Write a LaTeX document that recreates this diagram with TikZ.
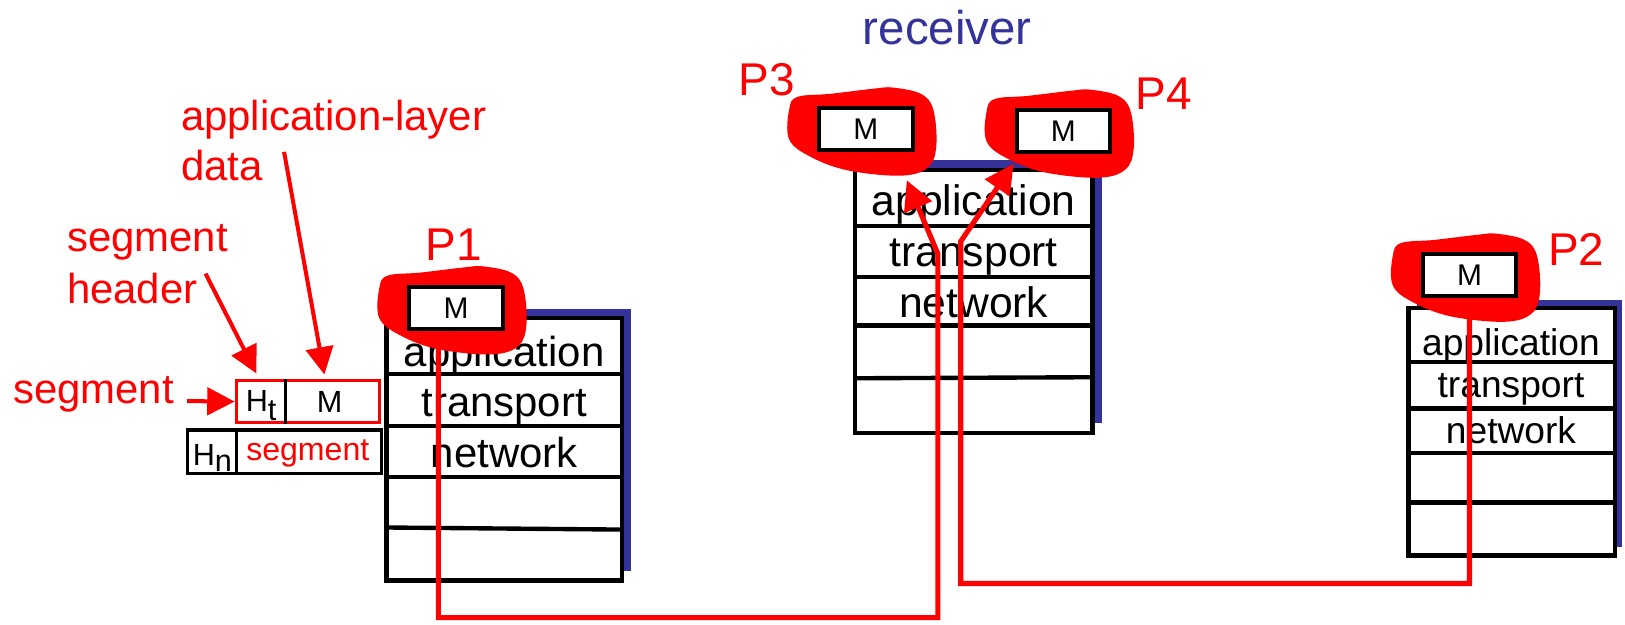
\documentclass[tikz,border=0pt]{standalone}
\usepackage{fontspec}
\setmainfont{Liberation Sans}
\usetikzlibrary{arrows.meta,calc}
\definecolor{shadowblue}{RGB}{51,51,153}
\definecolor{pred}{RGB}{255,0,0}
\newcommand\blobat[1]{\fill[pred,shift={#1}] plot[smooth cycle, tension=0.6] coordinates {(-62,-34) (-30,-37) (12,-42) (30,-43) (57,-37) (69,-22) (72,13) (64,34) (38,42) (-13,37) (-49,24) (-70,7) (-70,-22)};}
\begin{document}
\begin{tikzpicture}[x=0.01cm,y=-0.01cm,
  lbl/.style={inner sep=0, text=pred, font=\fontsize{11.5}{13.7}\selectfont},
  plbl/.style={inner sep=0, text=pred, font=\fontsize{12.6}{15}\selectfont},
  stackbox/.style={draw=black, line width=1.2pt, inner sep=0},
  rowline/.style={draw=black, line width=1.2pt},
  stackshade/.style={fill=shadowblue},
  layertxt/.style={inner sep=0, anchor=base, font=\fontsize{11.5}{13.7}\selectfont},
  layerrcv/.style={inner sep=0, anchor=base, font=\fontsize{11.7}{13.9}\selectfont},
  layersm/.style={inner sep=0, anchor=base, font=\fontsize{10.2}{12}\selectfont},
  mbox/.style={draw=black, fill=white, line width=1.1pt, minimum width=0.9cm, minimum height=0.41cm, inner sep=0, font=\fontsize{8.2}{9}\selectfont},
  smtxt/.style={inner sep=0, anchor=base, font=\fontsize{8.4}{9}\selectfont},
  wire/.style={draw=pred, line width=1.4pt, -{Triangle[length=8pt,width=8pt]}},
  pointer/.style={draw=pred, line width=1.1pt, -{Triangle[length=7.5pt,width=7.5pt]}},
]
\fill[white] (0,0) rectangle (1568,603);
\useasboundingbox (0,0) rectangle (1568,603);

% ---------- left labels ----------
\node[lbl, anchor=base west] (appl) at (174,126) {application-layer};
\node[lbl, anchor=base west] (data) at (174,174) {data};
\node[lbl, anchor=base west] (seghd1) at (64,243) {segment};
\node[lbl, anchor=base west] (seghd2) at (64,293) {header};
\node[lbl, anchor=base west] (seglbl) at (12,389) {segment};

% segment box
\node[draw=pred, line width=0.9pt, minimum width=1.38cm, minimum height=0.41cm, inner sep=0] (segbox) at (297,387.5) {};
\draw[line width=1pt] ($(segbox.north west)+(49,0)$) -- ($(segbox.south west)+(49,0)$);
\node[smtxt] (ht) at (252,397) {H\raisebox{-0.3em}{t}};
\node[smtxt] (segm) at (318,398) {M};

% network datagram box
\node[draw=black, line width=1pt, minimum width=1.87cm, minimum height=0.42cm, inner sep=0] (hnbox) at (274.5,436) {};
\draw[line width=1pt] ($(hnbox.north west)+(49,0)$) -- ($(hnbox.south west)+(49,0)$);
\node[smtxt] (hn) at (205,449) {H\raisebox{-0.2em}{n}};
\node[smtxt, text=pred, font=\fontsize{8.8}{10}\selectfont] (hnseg) at (297,444) {segment};

% pointers
\draw[pointer] ($(seglbl.base east)+(12,-2)$) -- (segbox.west);
\draw[pointer] ($(seghd2.north east)+(7,1)$) -- ($(segbox.north west)+(21,-5)$);
\draw[pointer] ($(data.east)+(20,-13)$) -- ($(segbox.north)+(16,-4)$);

% ---------- stacks: shadows ----------
\fill[stackshade] (382,298) rectangle (609,551);
\fill[stackshade] (834,154) rectangle (1063,408);
\fill[stackshade] (1367,289) rectangle (1565,528);

% P1 stack
\node[stackbox, fill=white, minimum width=2.27cm, minimum height=2.53cm] (st1) at (486.5,433.5) {};
\draw[rowline] (373,361) -- (600,361);
\draw[rowline] (373,411) -- (600,411);
\draw[rowline] (373,460) -- (600,460);
\draw[rowline] (373,509) -- (600,511);
\node[layertxt] (st1a) at (486.5,354) {application};
\node[layertxt] (st1t) at (486.5,402) {transport};
\node[layertxt] (st1n) at (486.5,451) {network};

% receiver stack
\node[stackbox, fill=white, minimum width=2.29cm, minimum height=2.54cm] (st2) at (939.5,291) {};
\draw[rowline] (825,218) -- (1054,218);
\draw[rowline] (825,267) -- (1054,267);
\draw[rowline] (825,314) -- (1054,314);
\draw[rowline] (825,365) -- (1054,364);
\node[layerrcv] (st2a) at (939.5,208) {application};
\node[layerrcv] (st2t) at (939.5,257) {transport};
\node[layerrcv] (st2n) at (939.5,306) {network};

% P2 stack
\node[stackbox, fill=white, minimum width=1.99cm, minimum height=2.39cm] (st3) at (1458.5,416.5) {};
\draw[rowline] (1359,349) -- (1558,349);
\draw[rowline] (1359,394) -- (1558,394);
\draw[rowline] (1359,437) -- (1558,437);
\draw[rowline] (1359,485) -- (1558,485);
\node[layersm] (st3a) at (1458,343) {application};
\node[layersm] (st3t) at (1458,384) {transport};
\node[layersm] (st3n) at (1458,428) {network};

% ---------- sockets ----------
\coordinate (c1) at (440,297);
\coordinate (c3) at (835.5,124.5);
\coordinate (c4) at (1026,126.5);
\coordinate (c2) at (1418,265.5);
\blobat{($(c1)+(-4,3)$)}
\blobat{($(c3)+(-4,3)$)}
\blobat{($(c4)+(-4,3)$)}
\blobat{($(c2)+(-4,3)$)}
\node[mbox] (p1m) at (c1) {M};
\node[mbox] (p3m) at (c3) {M};
\node[mbox] (p4m) at (c4) {M};
\node[mbox] (p2m) at (c2) {M};

\node[plbl, anchor=base] (p1l) at (438,251) {P1};
\node[plbl, anchor=base west] (p3l) at (712,92) {P3};
\node[plbl, anchor=base west] (p4l) at (1095,106) {P4};
\node[plbl, anchor=base west] (p2l) at (1493,256) {P2};
\node[inner sep=0, anchor=base, text=shadowblue, font=\fontsize{13}{15}\selectfont] (rcv) at (914,43) {receiver};

% ---------- demultiplexing paths ----------
\coordinate (w1b) at (905,596);
\coordinate (w1t) at (905,245);
\coordinate (p3in) at (875,174);
\coordinate (w2b) at (927,563);
\coordinate (w2t) at (927,233);
\coordinate (p4in) at (978,158);
\draw[wire] ($(p1m.south)+(-17,0)$) |- (w1b) -- (w1t) -- (p3in);
\draw[wire] (p2m.south) |- (w2b) -- (w2t) -- (p4in);
\end{tikzpicture}
\end{document}
